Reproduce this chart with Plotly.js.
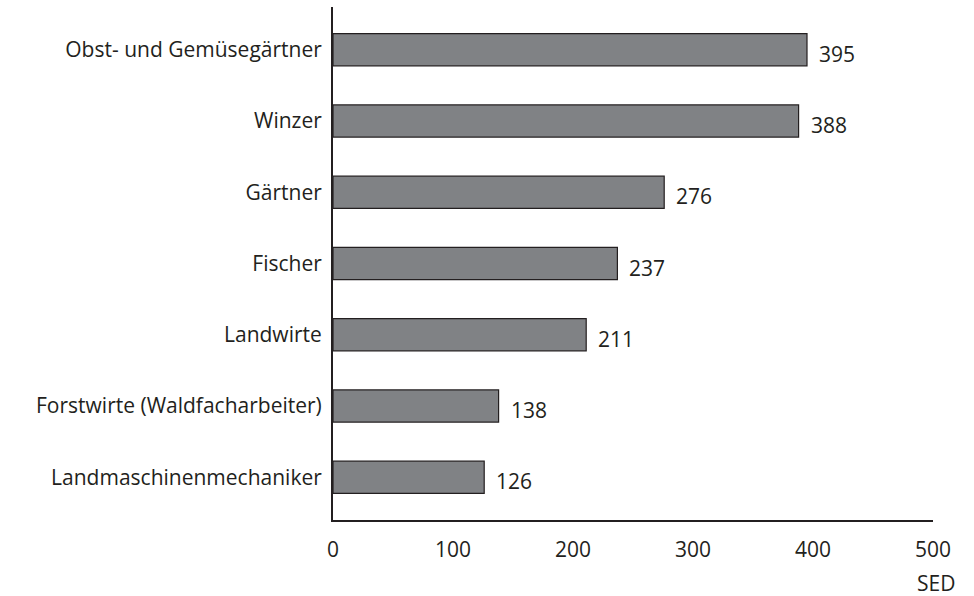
<!DOCTYPE html>
<html>
<head>
<meta charset="utf-8">
<script src="https://cdn.plot.ly/plotly-3.0.1.min.js"></script>
<style>html,body{margin:0;padding:0;background:#fff;}#chart{width:974px;height:596px;}</style>
</head>
<body>
<div id="chart"></div>
<script>
var categories = ["Obst- und Gemüsegärtner", "Winzer", "Gärtner", "Fischer", "Landwirte", "Forstwirte (Waldfacharbeiter)", "Landmaschinenmechaniker"];
var values = [395, 388, 276, 237, 211, 138, 126];
var xTicks = [0, 100, 200, 300, 400, 500];
var unitLabel = "SED";

var ink = "#231f20";
var fontFam = "'Open Sans', 'Noto Sans', sans-serif";
var fs = 21;

var trace = {
  type: "bar",
  orientation: "h",
  y: categories,
  x: values,
  marker: {color: "#808285", line: {color: ink, width: 1.2}},
  hoverinfo: "none"
};

var annotations = categories.map(function(c, i) {
  return {
    x: values[i], y: c, xref: "x", yref: "y",
    text: String(values[i]), showarrow: false,
    xanchor: "left", yanchor: "middle",
    xshift: 10, yshift: -4,
    font: {family: fontFam, size: fs, color: ink}
  };
});
annotations.push({
  x: 500, y: 0, xref: "x", yref: "paper",
  text: unitLabel, showarrow: false,
  xanchor: "right", yanchor: "top",
  xshift: 24, yshift: -47,
  font: {family: fontFam, size: fs, color: ink}
});

var layout = {
  width: 974, height: 596,
  margin: {l: 333, r: 41, t: 7, b: 76},
  paper_bgcolor: "#fff", plot_bgcolor: "#fff",
  showlegend: false,
  bargap: 0.55,
  font: {family: fontFam, size: fs, color: ink},
  xaxis: {
    range: [0, 500], tickvals: xTicks, ticktext: xTicks.map(String),
    showgrid: false, zeroline: false,
    showline: true, linecolor: ink, linewidth: 2,
    ticks: "", ticklabelstandoff: 10,
    tickfont: {family: fontFam, size: fs, color: ink}
  },
  yaxis: {
    type: "category", range: [6.6, -0.6],
    showgrid: false, zeroline: false,
    showline: true, linecolor: ink, linewidth: 2,
    ticks: "", ticklabelstandoff: 5,
    tickfont: {family: fontFam, size: fs, color: ink}
  },
  annotations: annotations
};

Plotly.newPlot("chart", [trace], layout, {displayModeBar: false, staticPlot: true});
</script>
</body>
</html>
